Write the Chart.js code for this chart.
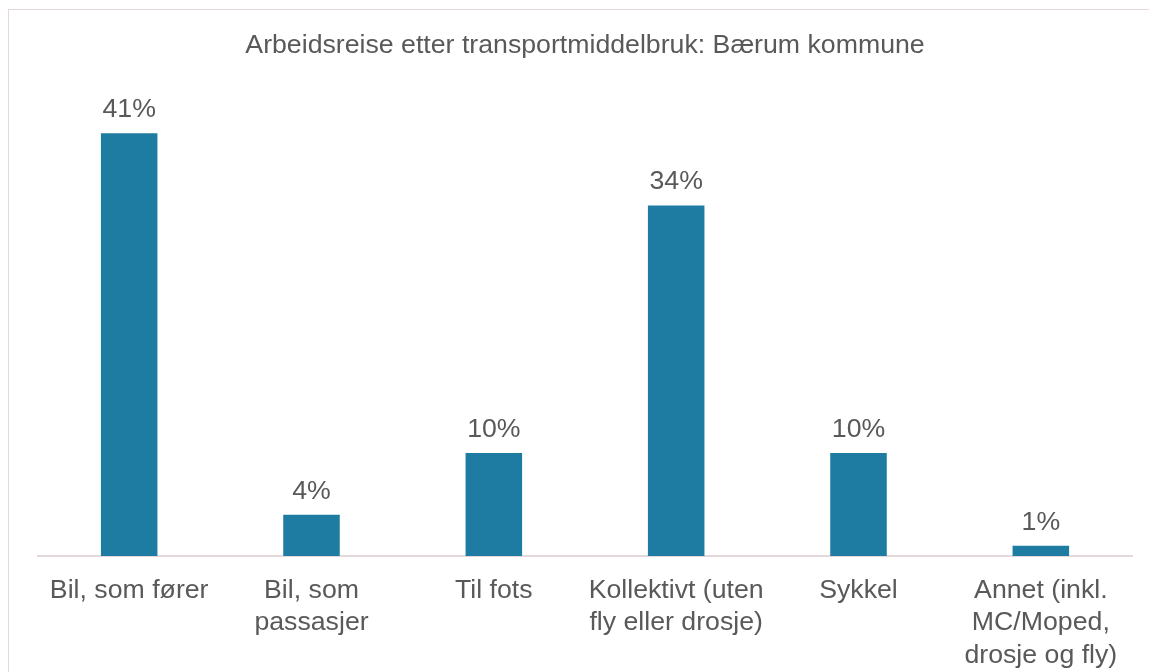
<!DOCTYPE html>
<html>
<head>
<meta charset="utf-8">
<script src="https://cdn.jsdelivr.net/npm/chart.js@4"></script>
<style>
    body { margin: 0; background: #fff; overflow: hidden; }
    #ramme {
        position: absolute; left: 8px; top: 9px;
        width: 2000px; height: 2000px;
        border: 1px solid #e4d8dc;
    }
    #grafik { position: absolute; left: 0; top: 0; }
</style>
</head>
<body>
<div id="ramme"></div>
<canvas id="grafik" width="1149" height="672"></canvas>
<script>
const tittel = 'Arbeidsreise etter transportmiddelbruk: Bærum kommune';
const kategorier = [
    ['Bil, som fører'],
    ['Bil, som', 'passasjer'],
    ['Til fots'],
    ['Kollektivt (uten', 'fly eller drosje)'],
    ['Sykkel'],
    ['Annet (inkl.', 'MC/Moped,', 'drosje og fly)']
];
const andel = [41, 4, 10, 34, 10, 1];

const fontFamily = '"Liberation Sans", Arial, sans-serif';
const fontSize = 26.7;
const tekstFarge = '#595959';

// skriver prosenten over hver søyle
const verdiEtiketter = {
    id: 'verdiEtiketter',
    afterDatasetsDraw(chart) {
        const ctx = chart.ctx;
        const meta = chart.getDatasetMeta(0);
        ctx.save();
        ctx.font = fontSize + 'px ' + fontFamily;
        ctx.fillStyle = tekstFarge;
        ctx.textAlign = 'center';
        ctx.textBaseline = 'alphabetic';
        meta.data.forEach((bar, i) => {
            ctx.fillText(andel[i] + '%', bar.x, bar.y - 16);
        });
        ctx.restore();
    }
};

const data = {
    labels: kategorier,
    datasets: [{
        data: andel,
        backgroundColor: '#1e7ba2',
        barPercentage: 0.31,
        categoryPercentage: 1
    }]
};

const config = {
    type: 'bar',
    data: data,
    options: {
        responsive: false,
        animation: false,
        devicePixelRatio: 1,
        layout: {
            padding: { left: 38, right: 17, top: 0, bottom: 0 }
        },
        plugins: {
            legend: { display: false },
            tooltip: { enabled: false },
            title: {
                display: true,
                text: tittel,
                color: tekstFarge,
                font: { family: fontFamily, size: fontSize, weight: 'normal', lineHeight: 1.2 },
                padding: { top: 29.5, bottom: 30.5 }
            }
        },
        scales: {
            x: {
                grid: { display: false, drawTicks: false },
                border: { display: true, color: '#e4d8dc', width: 2 },
                ticks: {
                    color: tekstFarge,
                    font: { family: fontFamily, size: fontSize, lineHeight: 1.225 },
                    padding: 18,
                    autoSkip: false,
                    maxRotation: 0,
                    minRotation: 0
                },
                // fast høyde for kategoriaksen, tre linjer tekst
                afterFit(scale) {
                    scale.height = 116;
                }
            },
            y: {
                display: false,
                min: 0,
                max: 45
            }
        }
    },
    plugins: [verdiEtiketter]
};

const myChart = new Chart(document.getElementById('grafik'), config);
</script>
</body>
</html>
